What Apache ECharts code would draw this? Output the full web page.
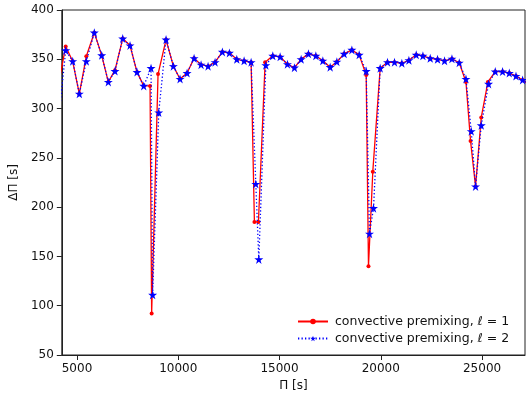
<!DOCTYPE html>
<html>
<head>
<meta charset="utf-8">
<script src="https://cdn.jsdelivr.net/npm/echarts@6/dist/echarts.min.js"></script>
<style>
html,body{margin:0;padding:0;background:#fff;}
#c{width:526px;height:397px;}
</style>
</head>
<body>
<div id="c"></div>
<script>
// ℓ = 1 (convective premixing)
const l1X = [4100, 4442, 4788, 5115, 5460, 5855, 6220, 6546, 6877, 7258, 7619, 7964, 8295, 8607, 8686, 9002,
  9397, 9758, 10089, 10435, 10781, 11126, 11472, 11818, 12179, 12525, 12890, 13251, 13597, 13760, 13958, 14289,
  14668, 15030, 15390, 15736, 16067, 16428, 16793, 17139, 17500, 17831, 18192, 18572, 18933, 19279, 19392, 19605,
  19970, 20331, 20677, 21040, 21388, 21749, 22080, 22441, 22802, 23148, 23513, 23874, 24205, 24432, 24679, 24960,
  25290, 25652, 26013, 26344, 26675, 27002, 27350];
const l1Y = [326, 363, 348, 315, 353, 377, 354, 327, 339, 371, 364, 337, 323, 323, 92, 335,
  370, 343, 330, 336, 351, 344.5, 343, 347, 357.5, 356.5, 350, 348.5, 347, 185, 185, 347,
  353.5, 352.5, 345, 341.5, 350, 355.5, 353.5, 348.5, 342, 347.5, 355.5, 359.5, 354.5, 334, 140, 236,
  341, 347, 347, 346, 349, 354.5, 353.5, 351, 350, 348.5, 350.5, 346.5, 327, 267, 221, 291,
  327, 337.5, 337.5, 336, 333, 329, 324];
// ℓ = 2 (convective premixing)
const l2X = [4100, 4442, 4788, 5115, 5460, 5855, 6220, 6546, 6877, 7258, 7619, 7964, 8295, 8656, 8735, 9036,
  9397, 9758, 10089, 10435, 10781, 11126, 11472, 11818, 12179, 12525, 12890, 13251, 13597, 13829, 13977, 14323,
  14668, 15030, 15390, 15736, 16067, 16428, 16793, 17139, 17500, 17831, 18192, 18572, 18933, 19279, 19442, 19640,
  19970, 20331, 20677, 21040, 21388, 21749, 22080, 22441, 22802, 23148, 23513, 23874, 24205, 24466, 24679, 24960,
  25321, 25652, 26013, 26344, 26675, 27002, 27350];
const l2Y = [290, 359, 348, 315, 348, 377, 354, 327, 338, 371, 364, 337, 323, 341, 111, 296,
  370, 343, 330, 336, 351, 344.5, 343, 347, 357.5, 356.5, 350, 348.5, 347, 223.5, 147, 344,
  353.5, 352.5, 345, 341.5, 350, 355.5, 353.5, 348.5, 342, 347.5, 355.5, 359.5, 354.5, 338, 173, 199,
  341, 347, 347, 346, 349, 354.5, 353.5, 351, 350, 348.5, 350.5, 346.5, 330, 277, 221, 283,
  325, 337.5, 337.5, 336, 333, 329, 324];
const seriesNames = ['convective premixing, ℓ = 1', 'convective premixing, ℓ = 2'];
const xName = 'Π [s]';
const yName = 'ΔΠ [s]';

const pairs = (xs, ys) => xs.map((x, i) => [x, ys[i]]);
const STAR = 'path://M50,0L61.17,34.63L97.55,34.55L68.07,55.87L79.39,90.45L50,69L20.61,90.45L31.93,55.87L2.45,34.55L38.83,34.63Z';
const FONT = 'DejaVu Sans';

const chart = echarts.init(document.getElementById('c'), null, {renderer: 'canvas'});
chart.setOption({
  animation: false,
  backgroundColor: '#fff',
  textStyle: {fontFamily: FONT},
  grid: {left: 61, right: 1, top: 10, bottom: 42, show: true, borderColor: '#222', borderWidth: 1, backgroundColor: 'transparent'},
  legend: {
    orient: 'vertical', left: 292, top: 310, itemGap: 4, itemWidth: 30, itemHeight: 7,
    textStyle: {fontFamily: FONT, fontSize: 12.5, color: '#111', padding: [0, 0, 0, 2]},
    data: [
      {name: seriesNames[0], itemStyle: {color: '#ff0000'}},
      {name: seriesNames[1], itemStyle: {color: '#0000ff'}}
    ]
  },
  xAxis: {
    type: 'value', min: 4250, max: 27120, splitNumber: 5,
    name: xName, nameLocation: 'middle', nameGap: 22,
    nameTextStyle: {fontFamily: FONT, fontSize: 12, color: '#111'},
    axisLine: {show: true, lineStyle: {color: '#222', width: 1}},
    axisTick: {show: true, inside: false, length: 5, lineStyle: {color: '#222'}},
    axisLabel: {fontFamily: FONT, fontSize: 12, color: '#111', margin: 8, showMinLabel: false, showMaxLabel: false,
      formatter: v => String(v)},
    splitLine: {show: false}
  },
  yAxis: {
    type: 'value', min: 50, max: 400, interval: 50,
    name: yName, nameLocation: 'middle', nameGap: 36, nameRotate: 90,
    nameTextStyle: {fontFamily: FONT, fontSize: 12, color: '#111'},
    axisLine: {show: true, lineStyle: {color: '#222', width: 1}},
    axisTick: {show: true, inside: false, length: 5, lineStyle: {color: '#222'}},
    axisLabel: {fontFamily: FONT, fontSize: 12, color: '#111', margin: 8},
    splitLine: {show: false}
  },
  series: [
    {
      name: seriesNames[0], type: 'line', data: pairs(l1X, l1Y), clip: true,
      symbol: 'circle', symbolSize: 4, showAllSymbol: true,
      itemStyle: {color: '#ff0000'},
      lineStyle: {color: '#ff0000', width: 1.3},
      z: 2
    },
    {
      name: seriesNames[1], type: 'line', data: pairs(l2X, l2Y), clip: true,
      symbol: STAR, symbolSize: 9, showAllSymbol: true,
      itemStyle: {color: '#0000ff'},
      lineStyle: {color: '#0000ff', width: 1.3, type: [1.3, 2.2]},
      z: 3
    }
  ]
});
</script>
</body>
</html>
